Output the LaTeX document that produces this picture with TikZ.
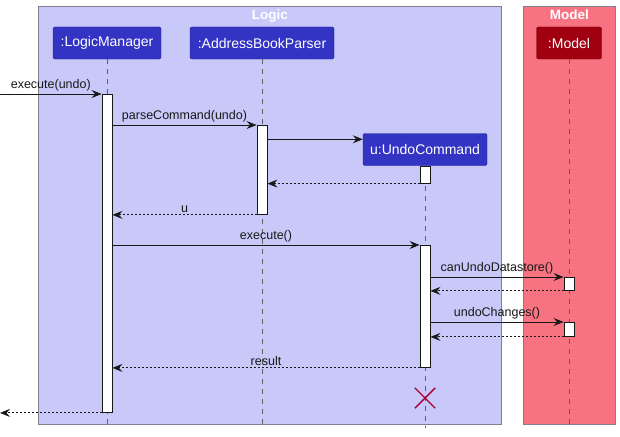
\documentclass[tikz,border=0pt]{standalone}
\usepackage{fontspec}
\setmainfont{Liberation Sans}
\usepackage{tikz}
\usetikzlibrary{arrows.meta,calc,shapes.misc}

\definecolor{logicbg}{HTML}{C8C8F9}
\definecolor{modelbg}{HTML}{F87382}
\definecolor{partblue}{HTML}{3333C4}
\definecolor{partred}{HTML}{A0000F}
\definecolor{framegray}{HTML}{7F7F90}
\definecolor{destroyred}{HTML}{A80036}
\definecolor{ink}{HTML}{181818}

\begin{document}
\begin{tikzpicture}[
    x=1pt, y=-1pt,
    frame/.style={rectangle, draw=framegray, line width=0.9pt, anchor=north west, inner sep=0pt},
    title/.style={font=\fontsize{13.5}{15}\selectfont\bfseries, text=white, below=3pt, inner sep=1pt},
    part/.style={rectangle, rounded corners=1.5pt, minimum height=32pt, text=white, inner sep=0pt, font=\fontsize{14}{16}\selectfont},
    lifeline/.style={draw=gray!75!black, dash pattern=on 5pt off 5pt, line width=0.8pt},
    actbar/.style={rectangle, draw=ink, fill=white, line width=0.9pt, minimum width=10pt, anchor=north, inner sep=0pt},
    msg/.style={-{Stealth[length=10pt,width=8pt,inset=3.5pt]}, draw=ink, line width=0.9pt},
    ret/.style={msg, dash pattern=on 2pt off 2pt},
    lbl/.style={font=\fontsize{12.5}{15}\selectfont, text=ink, above, inner sep=2pt}
]
    \useasboundingbox (0,0) rectangle (620,436);

    % Boxes
    \node[frame, fill=logicbg, minimum width=463pt, minimum height=418pt] (logicbox) at (38,6) {};
    \node[frame, fill=modelbg, minimum width=92pt, minimum height=418pt] (modelbox) at (523,6) {};
    \node[title] at (logicbox.north) {Logic};
    \node[title] at (modelbox.north) {Model};

    % Participants
    \node[part, fill=partblue, draw=partblue!75!black, minimum width=108pt] (lm) at (107,43) {:LogicManager};
    \node[part, fill=partblue, draw=partblue!75!black, minimum width=144pt] (pb) at (262,43) {:AddressBookParser};
    \node[part, fill=partblue, draw=partblue!75!black, minimum width=124pt] (uc) at (425,149.5) {u:UndoCommand};
    \node[part, fill=partred, draw=partred!75!black, minimum width=65pt] (model) at (569,43) {:Model};

    % Lifelines
    \coordinate (bottom) at (0,428);
    \coordinate (caller) at (0,94);
    \draw[lifeline] (lm.south) -- (lm.south |- bottom);
    \draw[lifeline] (pb.south) -- (pb.south |- bottom);
    \draw[lifeline] (uc.south) -- (uc.south |- bottom);
    \draw[lifeline] (model.south) -- (model.south |- bottom);

    % Activations
    \node[actbar, minimum height=318pt] (lmact) at (107,94) {};
    \node[actbar, minimum height=89pt] (pbact) at (262,125) {};
    \node[actbar, minimum height=17pt] (ucact) at (uc.south) {};
    \node[actbar, minimum height=122pt] (ucexec) at (425,245) {};
    \node[actbar, minimum height=13pt] (mcheck) at (569,277) {};
    \node[actbar, minimum height=14pt] (mundo) at (569,322) {};

    % Messages
    \draw[msg] (caller) -- (lmact.north west) node[lbl, midway] {execute(undo)};
    \draw[msg] (lmact.east |- pbact.north) -- (pbact.north west) node[lbl, midway] {parseCommand(undo)};
    \draw[msg] ([yshift=-6pt]pbact.east |- uc.north) -- ([yshift=-6pt]uc.north west);
    \draw[ret] (ucact.south west) -- (pbact.east |- ucact.south);
    \draw[ret] (pbact.south west) -- (lmact.east |- pbact.south) node[lbl, midway] {u};
    \draw[msg] (lmact.east |- ucexec.north) -- (ucexec.north west) node[lbl, midway] {execute()};
    \draw[msg] (ucexec.east |- mcheck.north) -- (mcheck.north west) node[lbl, midway] {canUndoDatastore()};
    \draw[ret] (mcheck.south west) -- (ucexec.east |- mcheck.south);
    \draw[msg] (ucexec.east |- mundo.north) -- (mundo.north west) node[lbl, midway] {undoChanges()};
    \draw[ret] (mundo.south west) -- (ucexec.east |- mundo.south);
    \draw[ret] (ucexec.south west) -- (lmact.east |- ucexec.south) node[lbl, midway] {result};
    \draw[ret] (lmact.south west) -- (caller |- lmact.south);

    % Destroy
    \node[cross out, draw=destroyred, line width=1.4pt, minimum size=19pt, inner sep=0pt] (ucend) at (425,398) {};
\end{tikzpicture}
\end{document}
